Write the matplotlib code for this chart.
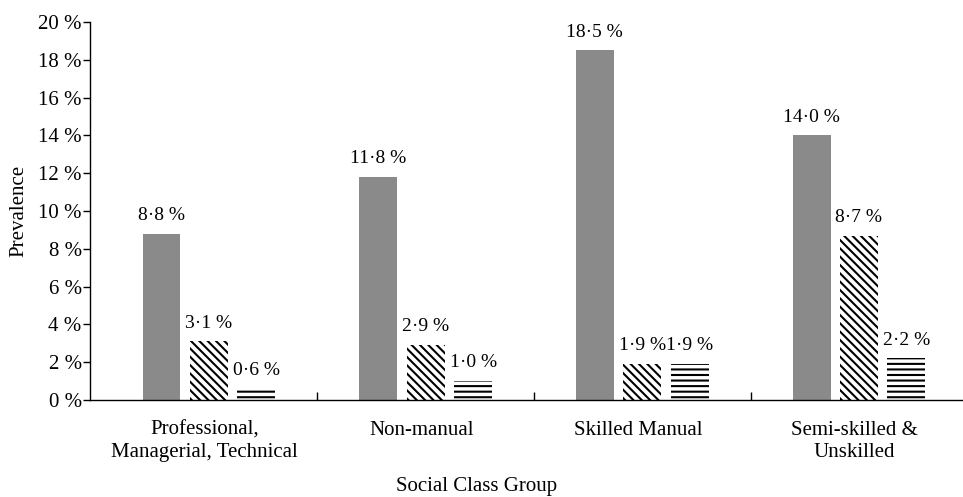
import matplotlib
matplotlib.use("Agg")
import matplotlib.pyplot as plt
import numpy as np

categories = ["Professional,\nManagerial, Technical", "Non-manual", "Skilled Manual", "Semi-skilled &\nUnskilled"]
series_a = [8.8, 11.8, 18.5, 14.0]
series_b = [3.1, 2.9, 1.9, 8.7]
series_c = [0.6, 1.0, 1.9, 2.2]
labels_a = ["8·8 %", "11·8 %", "18·5 %", "14·0 %"]
labels_b = ["3·1 %", "2·9 %", "1·9 %", "8·7 %"]
labels_c = ["0·6 %", "1·0 %", "1·9 %", "2·2 %"]
yticks = [0, 2, 4, 6, 8, 10, 12, 14, 16, 18, 20]
ytick_labels = ["0 %", "2 %", "4 %", "6 %", "8 %", "10 %", "12 %", "14 %", "16 %", "18 %", "20 %"]

plt.rcParams['font.family'] = ['Liberation Serif', 'DejaVu Serif']
plt.rcParams['hatch.linewidth'] = 1.5

W, H = 963, 497
fig = plt.figure(figsize=(W/100, H/100), dpi=100)
ax = fig.add_axes([90/W, 1-400/H, 1-90/W, (400-22)/H])

x = np.arange(len(categories))
w = 0.175
step = 0.219
fs = 15
fs_bar = 14

bars_a = ax.bar(x - step, series_a, w, color='#8a8a8a', linewidth=0)
bars_b = ax.bar(x, series_b, w, color='white', edgecolor='black', linewidth=0, hatch='\\\\\\\\')
bars_c = ax.bar(x + step, series_c, w, color='white', edgecolor='black', linewidth=0, hatch='---')

for bars, labs in [(bars_a, labels_a), (bars_b, labels_b), (bars_c, labels_c)]:
    for b, lab in zip(bars, labs):
        ax.annotate(lab, (b.get_x() + b.get_width()/2, b.get_height()),
                    xytext=(0, 7), textcoords='offset points',
                    ha='center', va='bottom', fontsize=fs_bar)

ax.set_xlim(-0.549, 3.48)
ax.set_ylim(0, 20)
ax.set_yticks(yticks)
ax.set_yticklabels(ytick_labels, fontsize=fs)
ax.tick_params(axis='y', direction='out', length=5, width=1, pad=1)

ax.set_xticks(x - 0.02)
ax.set_xticklabels(categories, fontsize=fs, linespacing=1.2)
ax.tick_params(axis='x', which='major', length=0, pad=15)
ax.set_xticks([0.5, 1.5, 2.5], minor=True)
ax.tick_params(axis='x', which='minor', direction='in', length=6, width=1)

for s in ['top', 'right']:
    ax.spines[s].set_visible(False)
ax.spines['left'].set_linewidth(1)
ax.spines['bottom'].set_linewidth(1)

fig.text(19/W, 1-211/H, "Prevalence", rotation=90, ha='center', va='center', fontsize=fs)
fig.text(477/W, 1-487/H, "Social Class Group", ha='center', va='center', fontsize=fs)

fig.savefig("out.png", dpi=100)
